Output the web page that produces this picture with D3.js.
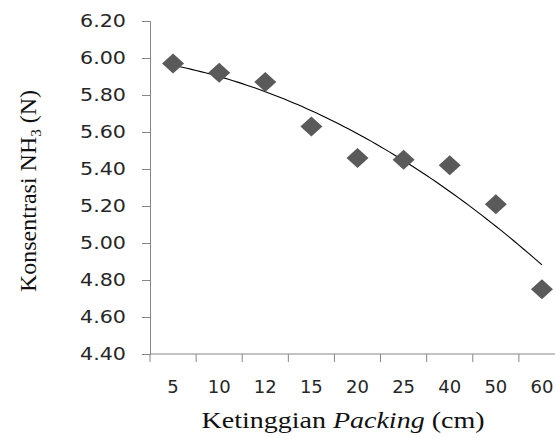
<!DOCTYPE html>
<html>
<head>
<meta charset="utf-8">
<script src="https://cdn.jsdelivr.net/npm/d3@7"></script>
<style>
  body { margin: 0; background: #fff; }
  svg { display: block; }
</style>
</head>
<body>
<div id="chart"></div>
<script>
// Data
const heights = ["5", "10", "12", "15", "20", "25", "40", "50", "60"];
const nh3 = [5.97, 5.92, 5.87, 5.63, 5.46, 5.45, 5.42, 5.21, 4.75];
const yTicks = [4.40, 4.60, 4.80, 5.00, 5.20, 5.40, 5.60, 5.80, 6.00, 6.20];

const W = 555, H = 438;
const margin = {top: 21, left: 150, bottom: 84, right: -10};

const svg = d3.select("#chart")
    .append("svg")
        .attr("width", W)
        .attr("height", H);

// Scales
const x = d3.scaleBand()
    .domain(heights)
    .range([margin.left, W - margin.right])
    .padding(0);

const y = d3.scaleLinear()
    .domain([4.40, 6.20])
    .range([H - margin.bottom, margin.top]);

// Y axis
const yAxis = svg.append("g")
    .attr("transform", `translate(${margin.left},0)`)
    .call(d3.axisLeft(y).tickValues(yTicks).tickFormat(d3.format(".2f")).tickSize(8).tickPadding(16));
yAxis.select(".domain").attr("stroke", "#868686");
yAxis.selectAll(".tick line").attr("stroke", "#868686");
yAxis.selectAll(".tick text")
    .style("font-family", "DejaVu Sans")
    .style("font-size", "18px")
    .attr("fill", "#262626")
    .attr("textLength", 46)
    .attr("lengthAdjust", "spacingAndGlyphs");

// X axis - ticks at category boundaries (Excel style)
const xAxisG = svg.append("g")
    .attr("transform", `translate(0,${y(4.40)})`);
xAxisG.append("line")
    .attr("x1", margin.left).attr("x2", W - margin.right)
    .attr("stroke", "#868686");
xAxisG.selectAll(".xt")
    .data(heights)
    .join("line")
        .attr("x1", d => x(d)).attr("x2", d => x(d))
        .attr("y1", 0).attr("y2", 8)
        .attr("stroke", "#868686");
xAxisG.selectAll(".xl")
    .data(heights)
    .join("text")
        .attr("x", d => x(d) + x.bandwidth() / 2)
        .attr("y", 39)
        .attr("text-anchor", "middle")
        .style("font-family", "DejaVu Sans")
        .style("font-size", "18px")
        .attr("fill", "#262626")
        .text(d => d);

// Polynomial (order 2) trendline, least squares fit on category index
const idx = nh3.map((d, i) => i + 1);
function polyFit2(xs, ys) {
    let n = xs.length, s1 = 0, s2 = 0, s3 = 0, s4 = 0, t0 = 0, t1 = 0, t2 = 0;
    xs.forEach((xv, i) => {
        s1 += xv; s2 += xv * xv; s3 += xv ** 3; s4 += xv ** 4;
        t0 += ys[i]; t1 += xv * ys[i]; t2 += xv * xv * ys[i];
    });
    const M = [[n, s1, s2, t0], [s1, s2, s3, t1], [s2, s3, s4, t2]];
    for (let i = 0; i < 3; i++) {
        for (let k = i + 1; k < 3; k++) {
            const f = M[k][i] / M[i][i];
            for (let j = i; j < 4; j++) M[k][j] -= f * M[i][j];
        }
    }
    const c = [0, 0, 0];
    for (let i = 2; i >= 0; i--) {
        let s = M[i][3];
        for (let j = i + 1; j < 3; j++) s -= M[i][j] * c[j];
        c[i] = s / M[i][i];
    }
    return c;
}
const coef = polyFit2(idx, nh3);
const xi = d3.scaleLinear()
    .domain([1, heights.length])
    .range([x(heights[0]) + x.bandwidth() / 2, x(heights[heights.length - 1]) + x.bandwidth() / 2]);
const trend = d3.range(1, heights.length + 0.001, 0.1);
svg.append("path")
    .datum(trend)
    .attr("fill", "none")
    .attr("stroke", "#000")
    .attr("stroke-width", 1.1)
    .attr("d", d3.line()
        .x(d => xi(d))
        .y(d => y(coef[0] + coef[1] * d + coef[2] * d * d)));

// Diamond markers
svg.selectAll(".pt")
    .data(nh3)
    .join("path")
        .attr("transform", (d, i) => `translate(${x(heights[i]) + x.bandwidth() / 2},${y(d)})`)
        .attr("d", "M0,-10L11,0L0,10L-11,0Z")
        .attr("fill", "#5a5a5a");

// Axis titles
svg.append("text")
    .attr("x", 343)
    .attr("y", 428)
    .attr("text-anchor", "middle")
    .style("font-family", "Liberation Serif")
    .style("font-size", "23px")
    .attr("fill", "#111")
    .attr("textLength", 283)
    .attr("lengthAdjust", "spacingAndGlyphs")
    .html('Ketinggian <tspan font-style="italic">Packing</tspan> (cm)');

const yt = svg.append("text")
    .attr("transform", "translate(36,191) rotate(-90)")
    .attr("text-anchor", "middle")
    .style("font-family", "Liberation Serif")
    .style("font-size", "24px")
    .attr("fill", "#111");
yt.append("tspan").text("Konsentrasi NH");
yt.append("tspan").attr("font-size", "15px").attr("dy", 5).text("3");
yt.append("tspan").attr("dy", -5).text(" (N)");
</script>
</body>
</html>
